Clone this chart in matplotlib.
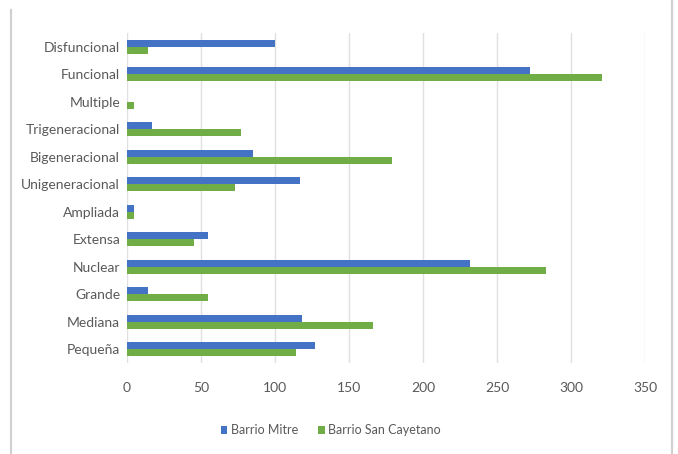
import matplotlib.pyplot as plt
import numpy as np
from matplotlib.lines import Line2D

# Categorías (de abajo hacia arriba)
categorias = ["Pequeña", "Mediana", "Grande", "Nuclear", "Extensa", "Ampliada",
              "Unigeneracional", "Bigeneracional", "Trigeneracional", "Multiple",
              "Funcional", "Disfuncional"]
barrio_mitre = [127, 118, 14, 232, 55, 5, 117, 85, 17, 0, 272, 100]
barrio_san_cayetano = [114, 166, 55, 283, 45, 5, 73, 179, 77, 5, 321, 14]
ticks_x = [0, 50, 100, 150, 200, 250, 300, 350]

azul = "#4472C4"
verde = "#70AD47"
gris_texto = "#595959"

plt.rcParams["font.family"] = ["Lato", "DejaVu Sans"]

fig = plt.figure(figsize=(6.78, 4.54), dpi=100)
ax = fig.add_axes([127 / 678, 1 - 363 / 454, 518 / 678, 330 / 454])

y = np.arange(len(categorias))
alto = 0.25
ax.barh(y + alto / 2, barrio_mitre, height=alto, color=azul, label="Barrio Mitre", zorder=3)
ax.barh(y - alto / 2, barrio_san_cayetano, height=alto, color=verde,
        label="Barrio San Cayetano", zorder=3)

ax.set_xlim(0, 350)
ax.set_ylim(-0.5, len(categorias) - 0.5)
ax.set_xticks(ticks_x)
ax.set_yticks(y)
ax.set_yticklabels(categorias)
ax.tick_params(axis="both", length=0, labelsize=10, colors=gris_texto)
ax.tick_params(axis="x", pad=14)
ax.tick_params(axis="y", pad=5)
ax.grid(axis="x", color="#e0e0e0", linewidth=1, zorder=0)
for s in ax.spines.values():
    s.set_visible(False)

fig.legend(loc="center", bbox_to_anchor=(331 / 678, 1 - 430 / 454), ncol=2,
           frameon=False, fontsize=9, handlelength=0.5, handleheight=0.6,
           columnspacing=1.6, handletextpad=0.3, labelcolor=gris_texto)

# Bordes laterales del área del gráfico
fig.add_artist(Line2D([11 / 678, 11 / 678], [0, 1 - 10 / 454], color="#d0d0d0", lw=1.5))
fig.add_artist(Line2D([672 / 678, 672 / 678], [0, 1], color="#d0d0d0", lw=1.5))

fig.savefig("out.png", dpi=100)
